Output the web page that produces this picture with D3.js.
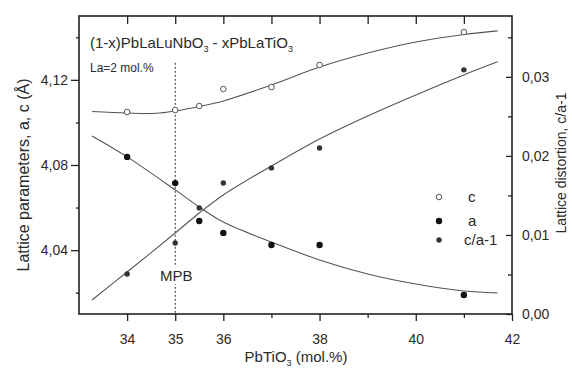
<!DOCTYPE html>
<html>
<head>
<meta charset="utf-8">
<script src="https://cdn.jsdelivr.net/npm/d3@7"></script>
<style>
  html, body { margin: 0; padding: 0; background: #fff; }
  svg { display: block; }
  text { font-family: "Liberation Sans", Arial, sans-serif; fill: #2a2a2a; }
</style>
</head>
<body>
<div id="chart"></div>
<script>
// ---------- data ----------
const xPts   = [34, 35, 35.5, 36, 37, 38, 41];
const cVals  = [4.1049, 4.1058, 4.1077, 4.1157, 4.1166, 4.1270, 4.1425];
const aVals  = [4.0838, 4.0715, 4.0537, 4.0481, 4.0424, 4.0424, 4.0189];
const caVals = [0.00506, 0.00899, 0.01342, 0.01658, 0.01848, 0.02101, 0.03089];

const cFitX  = [33.27, 34, 34.6, 35, 35.5, 36, 37, 38, 39, 40, 41, 41.7];
const cFitY  = [4.1051, 4.1044, 4.1043, 4.1054, 4.1075, 4.1101, 4.1176, 4.1260, 4.1326, 4.1378, 4.1413, 4.1430];
const aFitX  = [33.27, 34, 35, 35.5, 36, 37, 38, 39, 40, 41, 41.7];
const aFitY  = [4.0936, 4.0838, 4.0683, 4.0603, 4.0532, 4.0438, 4.0354, 4.0288, 4.0241, 4.0208, 4.0199];
const caFitX = [33.27, 34, 35, 35.5, 36, 37, 38, 39, 40, 41, 41.7];
const caFitY = [0.00177, 0.00532, 0.01025, 0.01278, 0.01506, 0.01873, 0.02215, 0.02506, 0.02772, 0.03025, 0.03190];

const xMajor = [34, 35, 36, 38, 40, 42];
const xMinor = [37, 39, 41];
const xTop   = [34, 35, 36, 37, 38, 39, 40, 41];
const yLMajor = [4.04, 4.08, 4.12];
const yLMinor = [4.02, 4.06, 4.10, 4.14];
const yRMajor = [0, 0.01, 0.02, 0.03];
const yRMinor = [0.005, 0.015, 0.025, 0.035];

const mpbX = 35, mpbTop = 4.128;
const legendItems = ["c", "a", "c/a-1"];

// ---------- layout ----------
const W = 572, H = 369;
const L = 79, R = 512, T = 16, B = 314;

const svg = d3.select("#chart").append("svg").attr("width", W).attr("height", H);
svg.append("rect").attr("width", W).attr("height", H).attr("fill", "#fff");

const x  = d3.scaleLinear().domain([33, 42]).range([L, R]);
const yL = d3.scaleLinear().domain([4.01, 4.15]).range([B, T]);
const yR = d3.scaleLinear().domain([0, 0.0377]).range([B, T]);

const comma = d => d3.format(".2f")(d).replace(".", ",");

function styleAxis(g) {
  g.select(".domain").remove();
  g.selectAll("line").attr("stroke", "#222").attr("stroke-width", 1.3);
  g.selectAll("text").attr("font-size", 14).attr("fill", "#2a2a2a")
   .attr("font-family", '"Liberation Sans", Arial, sans-serif');
}

// bottom axis
svg.append("g").attr("transform", `translate(0,${B})`)
  .call(d3.axisBottom(x).tickValues(xMajor).tickSize(7).tickPadding(13).tickFormat(d3.format("d")))
  .call(styleAxis);
svg.append("g").attr("transform", `translate(0,${B})`)
  .call(d3.axisBottom(x).tickValues(xMinor).tickSize(4).tickFormat(""))
  .call(styleAxis);
// top axis (inward)
svg.append("g").attr("transform", `translate(0,${T})`)
  .call(d3.axisTop(x).tickValues(xTop).tickSize(-8).tickFormat(""))
  .call(styleAxis);
// left axis
svg.append("g").attr("transform", `translate(${L},0)`)
  .call(d3.axisLeft(yL).tickValues(yLMajor).tickSize(8).tickPadding(3).tickFormat(comma))
  .call(styleAxis);
svg.append("g").attr("transform", `translate(${L},0)`)
  .call(d3.axisLeft(yL).tickValues(yLMinor).tickSize(3).tickFormat(""))
  .call(styleAxis);
// right axis (ticks inward)
svg.append("g").attr("transform", `translate(${R},0)`)
  .call(d3.axisRight(yR).tickValues(yRMajor).tickSize(-6).tickPadding(10).tickFormat(comma))
  .call(styleAxis);
svg.append("g").attr("transform", `translate(${R},0)`)
  .call(d3.axisRight(yR).tickValues(yRMinor).tickSize(-4).tickFormat(""))
  .call(styleAxis);

// frame
svg.append("rect").attr("x", L).attr("y", T).attr("width", R - L).attr("height", B - T)
  .attr("fill", "none").attr("stroke", "#222").attr("stroke-width", 1.6);

// axis titles
const xt = svg.append("text").attr("x", 296).attr("y", 362).attr("text-anchor", "middle").attr("font-size", 15);
xt.append("tspan").text("PbTiO");
xt.append("tspan").attr("font-size", 9).attr("dy", 4).text("3");
xt.append("tspan").attr("dy", -4).text(" (mol.%)");

svg.append("text").attr("transform", "translate(29,175) rotate(-90)")
  .attr("text-anchor", "middle").attr("font-size", 16).text("Lattice parameters, a, c (Å)");
svg.append("text").attr("transform", "translate(566,163) rotate(-90)")
  .attr("text-anchor", "middle").attr("font-size", 14).text("Lattice distortion, c/a-1");

// MPB line
svg.append("line").attr("x1", x(mpbX)).attr("x2", x(mpbX)).attr("y1", yL(mpbTop)).attr("y2", B)
  .attr("stroke", "#333").attr("stroke-width", 1).attr("stroke-dasharray", "2,2");
const mpbG = svg.append("g");
const mpbBg = mpbG.append("rect").attr("fill", "#fff");
const mpb = mpbG.append("text").attr("x", x(mpbX) + 1).attr("y", 281).attr("text-anchor", "middle")
  .attr("font-size", 15).text("MPB");
const bb = mpb.node().getBBox();
mpbBg.attr("x", bb.x - 1).attr("y", bb.y).attr("width", bb.width + 2).attr("height", bb.height);

// fit curves
const lineGen = (sx, sy) => d3.line().x(d => sx(d[0])).y(d => sy(d[1])).curve(d3.curveCatmullRom.alpha(0.5));
const curveStyle = p => p.attr("fill", "none").attr("stroke", "#555").attr("stroke-width", 1.1);
svg.append("path").datum(d3.zip(cFitX, cFitY)).attr("d", lineGen(x, yL)).call(curveStyle);
svg.append("path").datum(d3.zip(aFitX, aFitY)).attr("d", lineGen(x, yL)).call(curveStyle);
svg.append("path").datum(d3.zip(caFitX, caFitY)).attr("d", lineGen(x, yR)).call(curveStyle);

// points
svg.append("g").selectAll("circle").data(d3.zip(xPts, cVals)).join("circle")
  .attr("cx", d => x(d[0])).attr("cy", d => yL(d[1])).attr("r", 2.8)
  .attr("fill", "#fff").attr("stroke", "#555").attr("stroke-width", 1);
svg.append("g").selectAll("circle").data(d3.zip(xPts, aVals)).join("circle")
  .attr("cx", d => x(d[0])).attr("cy", d => yL(d[1])).attr("r", 3.2).attr("fill", "#111");
svg.append("g").selectAll("circle").data(d3.zip(xPts, caVals)).join("circle")
  .attr("cx", d => x(d[0])).attr("cy", d => yR(d[1])).attr("r", 2.7).attr("fill", "#333");

// annotation
const t1 = svg.append("text").attr("x", 90).attr("y", 48).attr("font-size", 15);
t1.append("tspan").text("(1-x)PbLaLuNbO");
t1.append("tspan").attr("font-size", 9).attr("dy", 4).text("3");
t1.append("tspan").attr("dy", -4).text(" - xPbLaTiO");
t1.append("tspan").attr("font-size", 9).attr("dy", 4).text("3");
svg.append("text").attr("x", 90).attr("y", 72).attr("font-size", 12).text("La=2 mol.%");

// legend
const legY = [197, 221, 240];
const lg = svg.append("g");
legendItems.forEach((name, i) => {
  const c = lg.append("circle").attr("cx", 439).attr("cy", legY[i]);
  if (i === 0) c.attr("r", 2.8).attr("fill", "#fff").attr("stroke", "#555").attr("stroke-width", 1);
  else if (i === 1) c.attr("r", 3.2).attr("fill", "#111");
  else c.attr("r", 2.7).attr("fill", "#333");
  lg.append("text").attr("x", i === 2 ? 464 : 468).attr("y", legY[i] + 5).attr("font-size", 15).text(name);
});
</script>
</body>
</html>
